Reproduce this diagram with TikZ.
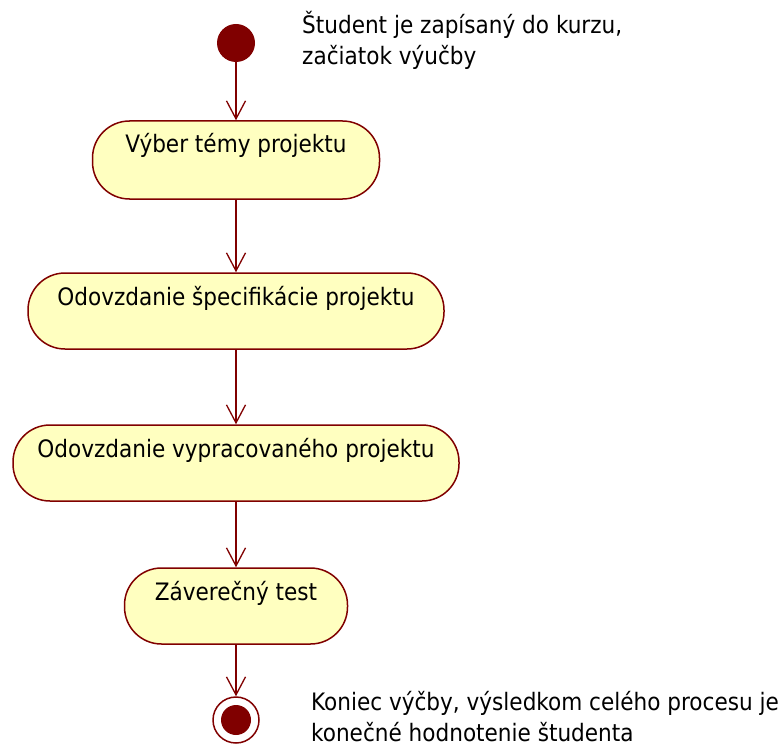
\documentclass[tikz,border=0pt]{standalone}
\usepackage{fontspec}
\setmainfont{DejaVu Sans Condensed}
\usetikzlibrary{positioning,arrows.meta}
\definecolor{umlred}{RGB}{128,0,0}
\definecolor{umlyellow}{RGB}{255,255,192}

\begin{document}
\begin{tikzpicture}[x=1pt,y=-1pt,
   font=\fontsize{24}{31}\selectfont,
   >={Straight Barb[length=18pt,width=19pt]},
   activity/.style={draw=umlred, fill=umlyellow, line width=1.5pt,
      rounded corners=37pt, minimum height=76pt, inner ysep=0pt,
      text height=32pt, text depth=44pt},
   startdot/.style={circle, fill=umlred, minimum size=38pt, inner sep=0pt},
   enddot/.style={circle, draw=umlred, line width=1.5pt, minimum size=46pt,
      inner sep=0pt, path picture={\fill[umlred]
      (path picture bounding box.center) circle (15pt);}},
   flow/.style={->, draw=umlred, line width=1.3pt},
   note/.style={align=left, inner sep=0pt}]
   \useasboundingbox (0,0) rectangle (783,746);

   \node[startdot] (start) at (236,43) {};
   \node[activity, minimum width=287pt, text depth=46pt] (vyber) at (236,160) {Výber témy projektu};
   \node[activity, minimum width=416pt] (specifikacia) at (236,311) {Odovzdanie špecifikácie projektu};
   \node[activity, minimum width=446pt] (projekt) at (236,463) {Odovzdanie vypracovaného projektu};
   \node[activity, minimum width=223pt] (test) at (236,606) {Záverečný test};
   \node[enddot] (end) at (236,720) {};

   \node[note, anchor=base west] (zaciatok) at (302,65) {Študent je zapísaný do kurzu,\\začiatok výučby};
   \node[note, anchor=base west] (koniec) at (311,741) {Koniec výčby, výsledkom celého procesu je\\konečné hodnotenie študenta};

   \draw[flow] (start) -- (vyber);
   \draw[flow] (vyber) -- (specifikacia);
   \draw[flow] (specifikacia) -- (projekt);
   \draw[flow] (projekt) -- (test);
   \draw[flow] (test) -- (end);
\end{tikzpicture}
\end{document}
